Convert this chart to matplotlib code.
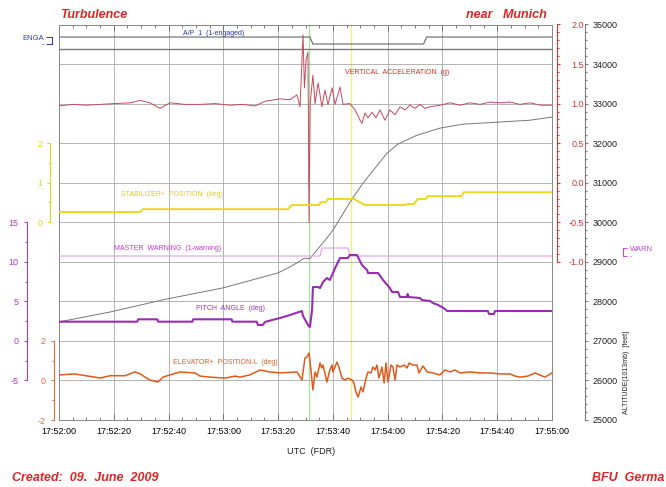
import matplotlib
matplotlib.use("Agg")
import matplotlib.pyplot as plt

plt.rcParams['font.family'] = ['Liberation Sans', 'DejaVu Sans']

# time in seconds after 17:52:00 UTC
tick_t = [0, 20, 40, 60, 80, 100, 120, 140, 160, 180]
tick_lbl = ['17:52:00', '17:52:20', '17:52:40', '17:53:00', '17:53:20',
            '17:53:40', '17:54:00', '17:54:20', '17:54:40', '17:55:00']
t_green = 91.3
t_yellow = 106.5

# altitude (1013 mb) [feet]
t_alt = [0, 18.6, 39.4, 59.9, 80.0, 84.3, 87.3, 89.5, 91.6, 94.2, 97.8, 100.0,
         107.0, 111.0, 119.8, 123.8, 130.7, 139.1, 147.5, 159.9, 172.0, 180]
alt = [27480, 27730, 28060, 28340, 28720, 28870, 28990, 29090, 29080, 29300, 29600, 29800,
       30590, 30990, 31750, 31980, 32200, 32380, 32480, 32530, 32580, 32660]

# vertical acceleration [g]
t_acc = [0, 5, 10, 15, 20, 25.9, 29.6, 33.2, 36.9, 40.5, 46, 51.5, 57, 62.4, 67,
         71.6, 75.2, 80.7, 84.3, 86.9, 88.0, 89.1, 89.6, 90.2, 90.9, 91.3, 91.7, 92.7,
         93.5, 94.6, 96.0, 97.1, 98.2, 99.7, 100.8, 102.6, 103.7, 106.2, 108.1, 109.9,
         110.6, 111.7, 112.8, 114.3, 115.7, 117.2, 119.0, 120.8, 122.7, 124.5, 126.3,
         128.1, 130.0, 131.8, 133.6, 135.5, 139.1, 142.8, 146.4, 150.1, 153.7, 157.4,
         161.0, 164.7, 168.3, 172.0, 175.6, 180]
g_acc = [0.97, 0.99, 0.98, 0.99, 1.00, 1.01, 1.04, 1.01, 0.94, 1.01, 0.99, 0.99, 1.00,
         0.98, 0.99, 0.97, 1.03, 1.06, 1.05, 1.11, 0.96, 1.87, 1.20, 1.55, 1.65, -0.50,
         1.00, 1.36, 1.00, 1.26, 0.96, 1.17, 0.99, 1.20, 0.99, 1.21, 0.99, 1.00, 0.92,
         0.79, 0.75, 0.88, 0.82, 0.89, 0.82, 0.92, 0.79, 0.92, 0.86, 0.96, 0.92, 0.98,
         0.94, 0.99, 0.94, 0.96, 0.98, 1.01, 0.98, 1.01, 0.99, 1.02, 1.01, 1.02, 0.99,
         1.01, 0.98, 0.98]

# stabilizer position [deg]
t_stab = [0, 29.6, 30.7, 83.6, 85.0, 95.0, 95.6, 97.5, 98.1, 107.7, 111.7, 126.3,
          127.4, 129.6, 131.0, 134.0, 134.7, 147.0, 147.8, 180]
stab = [0.26, 0.26, 0.33, 0.33, 0.435, 0.435, 0.51, 0.51, 0.59, 0.59, 0.435, 0.435,
        0.46, 0.46, 0.59, 0.59, 0.66, 0.66, 0.76, 0.76]

# master warning (1 = warning)
t_warn = [0, 95.3, 96.0, 105.5, 106.3, 180]
warn = [0, 0, 1, 1, 0, 0]

# A/P 1 (1 = engaged)
t_ap = [0, 91.6, 92.7, 133.1, 134.2, 180]
ap = [1, 1, 0, 0, 1, 1]

# pitch angle [deg]
t_pit = [0, 28.6, 28.9, 35.9, 36.2, 48.7, 49.0, 63.0, 63.3, 72.2, 72.6, 74.4, 75.2,
         77.8, 80.7, 84.3, 88.7, 89.1, 90.9, 91.6, 92.4, 92.7, 94.6, 95.3, 96.4, 97.8,
         98.9, 99.7, 100.8, 102.6, 105.5, 106.2, 108.8, 110.6, 112.5, 112.8, 116.5,
         118.3, 120.8, 121.6, 123.8, 124.5, 127.0, 127.3, 127.6, 131.8, 132.5, 135.5,
         136.5, 138.4, 139.8, 140.9, 141.7, 156.6, 157.0, 158.8, 159.2, 180]
pitch = [2.43, 2.43, 2.73, 2.73, 2.43, 2.43, 2.73, 2.73, 2.43, 2.43, 2.01, 2.01, 2.39,
         2.64, 2.89, 3.27, 3.78, 3.15, 2.01, 1.76, 3.90, 6.81, 6.81, 6.68, 7.44, 7.95,
         7.70, 8.33, 9.21, 10.48, 10.48, 10.86, 10.86, 9.59, 8.96, 8.58, 8.58, 7.70,
         6.68, 6.18, 6.18, 5.55, 5.55, 5.93, 5.55, 5.42, 5.17, 5.04, 4.79, 4.54, 4.28,
         4.03, 3.78, 3.78, 3.40, 3.40, 3.78, 3.78]

# elevator position L [deg]
t_elev = [0, 5.8, 10.6, 13.1, 15.0, 18.6, 24.1, 27.7, 29.6, 33.2, 36.1, 38.0, 40.5,
          44.2, 49.7, 51.5, 55.1, 60.6, 64.3, 66.1, 69.7, 73.4, 77.0, 80.7, 86.9, 88.7,
          89.8, 90.5, 91.3, 92.0, 92.7, 93.5, 94.2, 95.3, 96.0, 96.4, 97.8, 98.9, 99.7,
          100.0, 101.5, 102.2, 103.3, 104.4, 105.5, 107.0, 107.7, 108.4, 109.2, 110.3,
          111.0, 112.1, 112.8, 113.9, 114.6, 115.4, 116.1, 116.8, 117.9, 118.7, 119.4,
          120.1, 121.2, 121.9, 122.7, 123.4, 124.5, 126.0, 127.1, 127.8, 129.2, 130.7,
          131.4, 132.9, 134.4, 136.5, 139.1, 140.9, 142.8, 144.6, 146.4, 150.1, 153.7,
          157.4, 161.0, 164.7, 166.5, 168.3, 171.2, 173.8, 177.4, 180]
elev = [0.28, 0.33, 0.22, 0.17, 0.12, 0.24, 0.24, 0.43, 0.33, 0.02, -0.08, 0.17, 0.28,
        0.43, 0.38, 0.22, 0.17, 0.12, 0.22, 0.17, 0.28, 0.53, 0.43, 0.38, 0.43, 0.02,
        1.13, 1.19, 1.39, 0.53, -0.48, 0.43, 0.17, 0.88, 0.63, 0.78, -0.08, 0.53, 0.78,
        0.43, 0.93, 0.68, 0.12, 0.02, 0.12, 0.02, -0.13, -0.58, -0.84, -0.33, -0.58,
        0.12, 0.43, 0.38, 0.68, 0.53, 0.78, 0.12, 0.68, -0.13, 0.88, -0.08, 0.78, 0.68,
        0.02, 0.78, 0.68, 0.78, 0.63, 0.88, 0.78, 0.78, 0.38, 0.73, 0.43, 0.38, 0.28,
        0.53, 0.43, 0.53, 0.38, 0.43, 0.38, 0.38, 0.33, 0.33, 0.22, 0.17, 0.22, 0.38,
        0.17, 0.38]

W, H = 666, 487
fig = plt.figure(figsize=(W / 100, H / 100), dpi=100)
x0, x1, ytop, ybot = 59, 552, 24.5, 420
ax = fig.add_axes([x0 / W, 1 - ybot / H, (x1 - x0) / W, (ybot - ytop) / H])
pw = x1 - x0


def px(x):
    # pixel column -> axes fraction
    return (x - x0) / pw


def side_axis(lo, hi, pos, side, color, ticks, labels, minor, bounds,
              size=6.5, pad=3, length=2.2, ha=None, lblcolor=None):
    tw = ax.twinx()
    tw.set_ylim(lo, hi)
    for s in tw.spines.values():
        s.set_visible(False)
    sp = tw.spines[side]
    sp.set_visible(True)
    sp.set_position(('axes', pos))
    sp.set_bounds(*bounds)
    sp.set_color(color)
    sp.set_linewidth(0.8)
    tw.yaxis.set_ticks_position(side)
    tw.set_yticks(ticks)
    tw.set_yticklabels(labels)
    tw.set_yticks(minor, minor=True)
    tw.tick_params(axis='y', which='both', color=color, labelcolor=lblcolor or color,
                   labelsize=size, direction='out', pad=pad, width=0.7)
    tw.tick_params(axis='y', which='major', length=length)
    tw.tick_params(axis='y', which='minor', length=length * 0.6)
    if ha:
        for lab in tw.get_yticklabels():
            lab.set_horizontalalignment(ha)
    return tw


# main frame: altitude coordinates, time axis
ax.set_xlim(0, 180)
ax.set_ylim(25000, 35000)
ax.set_xticks(tick_t)
ax.set_xticklabels(tick_lbl)
ax.set_xticks(range(0, 181, 5), minor=True)
ax.set_yticks(range(25000, 35001, 1000))
ax.tick_params(axis='x', which='both', direction='in', top=True, bottom=True,
               labelsize=6.5, pad=5, color='#666666', width=0.6)
ax.tick_params(axis='x', which='major', length=4)
ax.tick_params(axis='x', which='minor', length=2)
ax.grid(True, color='#a8a8a8', lw=0.6)
for s in ax.spines.values():
    s.set_color('#888888')
    s.set_linewidth(0.7)
ax.axhline(34380, color='#7a7a7a', lw=1.0)
ax.axvline(t_green, color='#9ee39e', lw=0.9, zorder=1)
ax.axvline(t_yellow, color='#f2ef7a', lw=0.9, zorder=1)
ax.plot(t_alt, alt, color='#777777', lw=0.7)

# altitude scale (right, outer)
alt_ax = side_axis(25000, 35000, px(585), 'right', '#777777',
                   list(range(25000, 35001, 1000)), [str(v) for v in range(25000, 35001, 1000)],
                   list(range(25200, 35000, 200)), (25000, 35000), lblcolor='#222222')

# vertical acceleration (right, inner) : 1.0 g at 33000 ft
acc_ax = side_axis(-3, 2, px(557), 'right', '#e03030',
                   [-1, -0.5, 0, 0.5, 1, 1.5, 2],
                   ['-1.0', '-0.5', '0.0', '0.5', '1.0', '1.5', '2.0'],
                   [v / 10 for v in range(-9, 20) if v % 5], (-1, 2), pad=17, ha='right')
acc_ax.plot(t_acc, g_acc, color='#c8485e', lw=0.7)

# master warning (right, far)
warn_ax = side_axis(-20.5, 28.94, px(623), 'right', '#d040e0', [0, 1], ['-', 'WARN'],
                    [], (0, 1), size=5.5, pad=2, length=3)
warn_ax.plot(t_warn, warn, color='#e6a4f2', lw=0.9)

# A/P 1 (left)
ap_ax = side_axis(-53.71, 2.79, px(52), 'left', '#3040a8', [0, 1], ['-', 'ENGA'],
                  [], (0, 1), size=5.5, pad=2, length=4)
ap_ax.plot(t_ap, ap, color='#666666', lw=0.8)

# stabilizer (left)
stab_ax = side_axis(-5, 5, px(50), 'left', '#e6d21a', [0, 1, 2], ['0', '1', '2'],
                    [0.5, 1.5], (0, 2), pad=3)
stab_ax.plot(t_stab, stab, color='#ecd81e', lw=1.4)

# elevator (left)
elev_ax = side_axis(-2, 18, px(54), 'left', '#e0703a', [-2, 0, 2], ['-2', '0', '2'],
                    [-1, 1], (-2, 2), pad=4)
elev_ax.plot(t_elev, elev, color='#e05a1c', lw=1.1)

# pitch (left, outer)
pit_ax = side_axis(-10, 40, px(27), 'left', '#b038c8', [-5, 0, 5, 10, 15],
                   ['-5', '0', '5', '10', '15'], [-2.5, 2.5, 7.5, 12.5], (-5, 15), pad=4)
pit_ax.plot(t_pit, pitch, color='#9a2cb4', lw=1.5)

# twinx() turns the host's left ticks back on, so switch them off at the end
ax.tick_params(axis='y', which='both', left=False, right=False, labelleft=False,
               labelright=False)


def ftxt(x, y, s, **kw):
    fig.text(x / W, 1 - y / H, s, va='center', **kw)


ftxt(214, 33, 'A/P  1  (1-engaged)', color='#2838a0', fontsize=5, ha='center')
ftxt(397, 73, 'VERTICAL  ACCELERATION  (g)', color='#e02828', fontsize=5, ha='center')
ftxt(172, 195, 'STABILIZER+  POSITION  (deg)', color='#e2cc10', fontsize=5, ha='center')
ftxt(168, 248, 'MASTER  WARNING  (1-warning)', color='#d030e0', fontsize=5, ha='center')
ftxt(230, 308, 'PITCH  ANGLE  (deg)', color='#a030c0', fontsize=5, ha='center')
ftxt(225, 363, 'ELEVATOR+  POSITION-L  (deg)', color='#e06020', fontsize=5, ha='center')
ftxt(311, 451, 'UTC  (FDR)', color='#222222', fontsize=6.5, ha='center')
ftxt(627, 372, 'ALTITUDE(1013mb)  [feet]', color='#222222', fontsize=5, ha='center',
     rotation=90)

red = '#e02424'
ftxt(60, 15, 'Turbulence', color=red, fontsize=9, fontweight='bold', style='italic')
ftxt(547, 15, 'near   Munich', color=red, fontsize=9, fontweight='bold', style='italic',
     ha='right')
ftxt(12, 478, 'Created:  09.  June  2009', color=red, fontsize=9, fontweight='bold',
     style='italic')
# the reference image ends mid-word at its right edge
ftxt(664, 478, 'BFU  Germa', color=red, fontsize=9, fontweight='bold', style='italic',
     ha='right')

fig.savefig('out.png', dpi=100, facecolor='white')
